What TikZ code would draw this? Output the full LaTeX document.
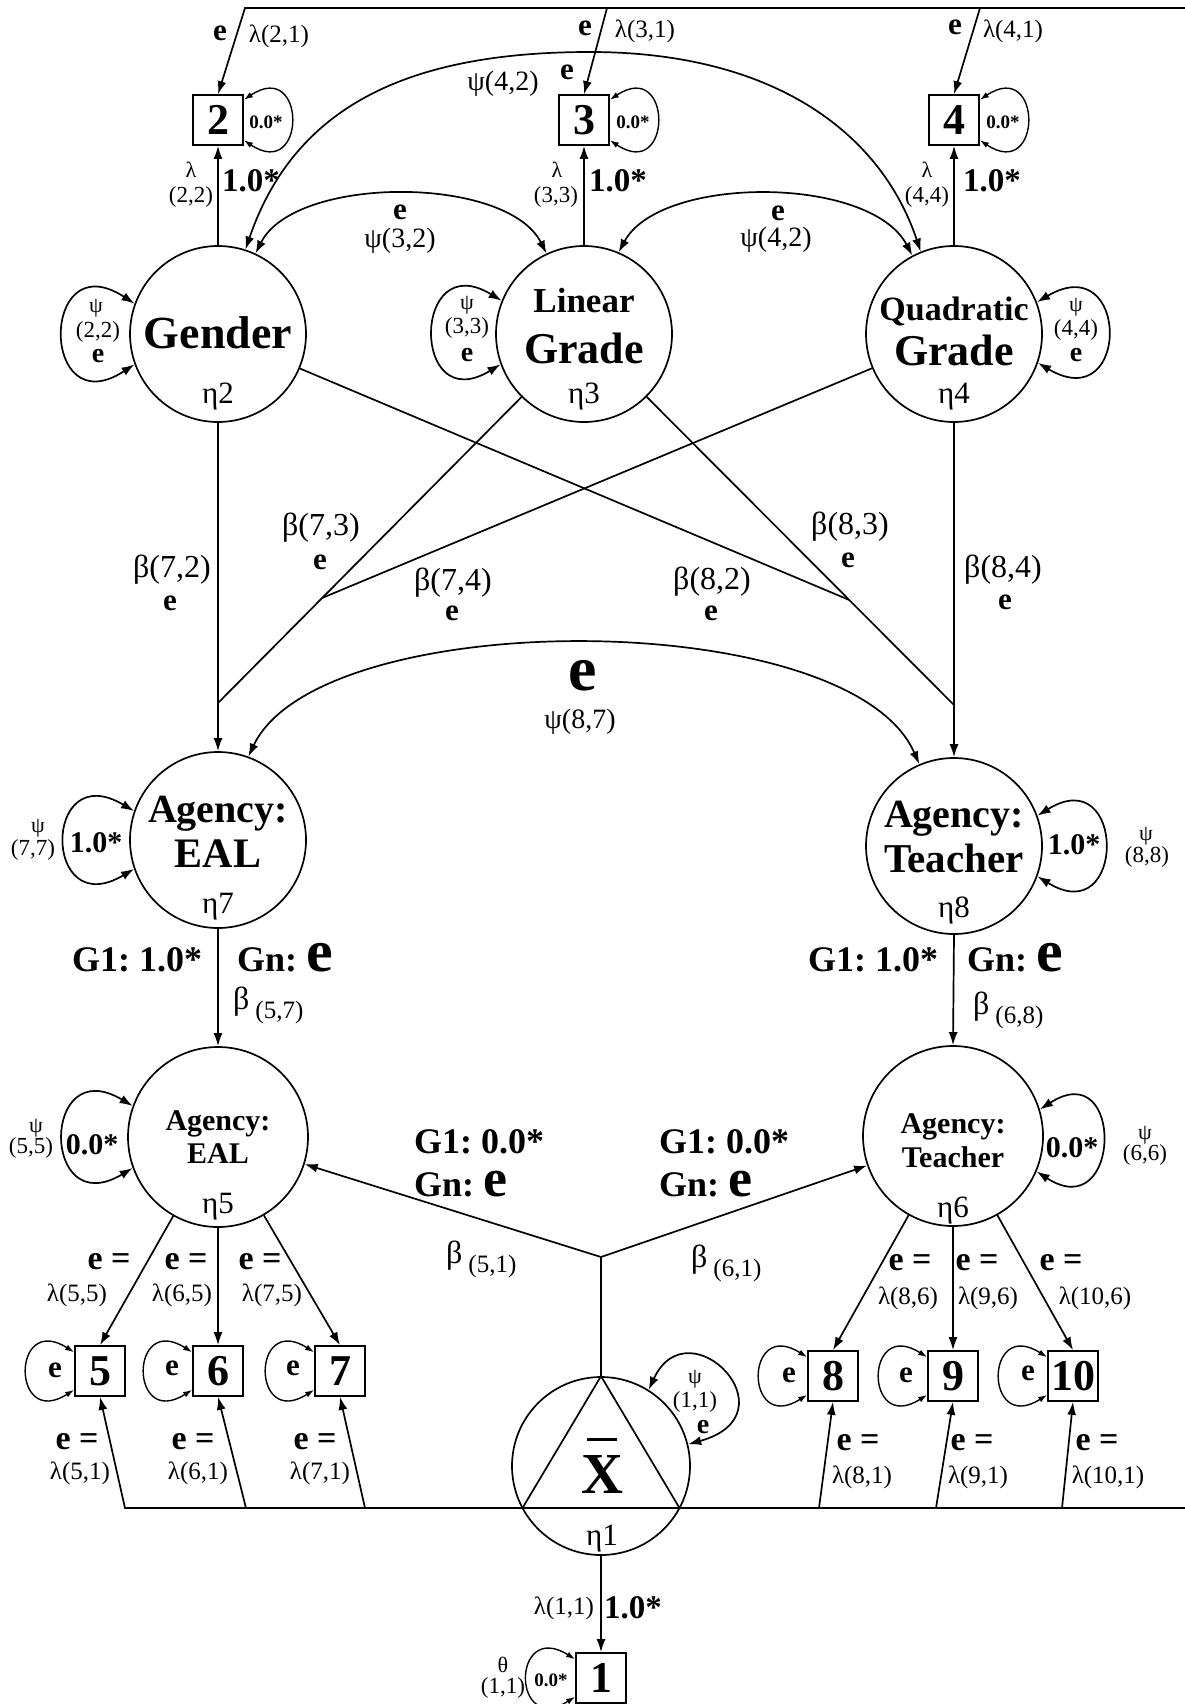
\documentclass[tikz,border=0pt]{standalone}
\usepackage{fontspec}
\setmainfont{Liberation Serif}
\usetikzlibrary{arrows.meta,calc}
\newcommand\fsz[1]{\fontsize{#1}{#1}\selectfont}
\begin{document}
\frenchspacing
\begin{tikzpicture}[x=1pt,y=-1pt,
  ln/.style={line width=1.7pt},
  arr/.style={ln,-{Latex[length=13pt,width=9pt]}},
  darr/.style={ln,{Latex[length=13pt,width=9pt]}-{Latex[length=13pt,width=9pt]}},
  lp/.style={line width=1.4pt,{Latex[length=9pt,width=6pt]}-{Latex[length=9pt,width=6pt]}},
  lat/.style={circle,draw,line width=1.7pt,minimum size=176pt,inner sep=0pt},
  obs/.style={rectangle,draw,line width=1.7pt,minimum width=50pt,minimum height=50pt,inner sep=0pt,font=\fsz{44}\bfseries},
  tx/.style={inner sep=0pt},
  lam/.style={tx,font=\fsz{25}},
  be/.style={tx,font=\fsz{31}\bfseries},
  bet/.style={tx,font=\fsz{32}},
  psl/.style={tx,font=\fsz{28}},
  one/.style={tx,font=\fsz{33}\bfseries},
  lone/.style={tx,font=\fsz{30}\bfseries},
  tinyb/.style={tx,font=\fsz{19}\bfseries},
  sm/.style={tx,font=\fsz{23}},
  gsym/.style={tx,font=\fsz{22}},
  gn/.style={tx,font=\fsz{36}\bfseries,anchor=base west},
  bsub/.style={tx,font=\fsz{32},anchor=base west},
  eq/.style={tx,font=\fsz{34}\bfseries},
  bige/.style={tx,font=\fsz{64}\bfseries},
  eta/.style={tx,font=\fsz{31},anchor=base},
  ctxt/.style={tx,anchor=base},
]
\useasboundingbox (0,0) rectangle (1185,1704);

% ---------- latent variables ----------
\node[lat] (g) at (218,334) {};
\node[lat] (lin) at (584,334) {};
\node[lat] (q) at (954,334) {};
\node[lat] (e7) at (218,840) {};
\node[lat] (e8) at (954,846) {};
\node[lat,minimum size=180pt] (e5) at (218,1137) {};
\node[lat,minimum size=180pt] (e6) at (953,1136) {};
\node[lat,minimum size=178pt] (xb) at (601,1466) {};

% ---------- observed variables ----------
\node[obs] (b1) at (601,1678) {1};
\node[obs] (b2) at (218,120) {2};
\node[obs] (b3) at (584,120) {3};
\node[obs] (b4) at (954,120) {4};
\node[obs] (b5) at (100,1371) {5};
\node[obs] (b6) at (218,1371) {6};
\node[obs] (b7) at (340,1371) {7};
\node[obs] (b8) at (833,1376) {8};
\node[obs] (b9) at (953,1376) {9};
\node[obs] (b10) at (1073,1376) {10};

% ---------- texts inside circles ----------
\node[ctxt,font=\fsz{46}\bfseries] (tg) at (218,348) {Gender};
\node[eta] (t2) at (218,403) {η2};
\node[ctxt,font=\fsz{35}\bfseries] (tl1) at (584,312) {Linear};
\node[ctxt,font=\fsz{44}\bfseries] (tl2) at (584,363) {Grade};
\node[eta] (t3) at (584,403) {η3};
\node[ctxt,font=\fsz{34}\bfseries] (tq1) at (954,320) {Quadratic};
\node[ctxt,font=\fsz{44}\bfseries] (tq2) at (954,365) {Grade};
\node[eta] (t4) at (954,403) {η4};
\node[ctxt,font=\fsz{40}\bfseries] (t7a) at (218,822) {Agency:};
\node[ctxt,font=\fsz{42}\bfseries] (t7b) at (218,867) {EAL};
\node[eta] (t7) at (218,913) {η7};
\node[ctxt,font=\fsz{40}\bfseries] (t8a) at (954,827) {Agency:};
\node[ctxt,font=\fsz{41}\bfseries] (t8b) at (954,872) {Teacher};
\node[eta] (t8) at (954,917) {η8};
\node[ctxt,font=\fsz{30}\bfseries] (t5a) at (218,1130) {Agency:};
\node[ctxt,font=\fsz{30}\bfseries] (t5b) at (218,1163) {EAL};
\node[eta] (t5) at (218,1213) {η5};
\node[ctxt,font=\fsz{30}\bfseries] (t6a) at (953,1133) {Agency:};
\node[ctxt,font=\fsz{30}\bfseries] (t6b) at (953,1167) {Teacher};
\node[eta] (t6) at (953,1217) {η6};
\node[ctxt,font=\fsz{58}\bfseries] (xl) at (602,1493) {X};
\draw[line width=3pt] ([xshift=-15pt,yshift=15pt]xl.north) -- ([xshift=15pt,yshift=15pt]xl.north);
\node[eta] (t1) at (602,1545) {η1};

% ---------- top line and loadings on eta1 ----------
\coordinate (tl0) at (245,8);
\coordinate (tl3) at (607,8);
\coordinate (tl4) at (980,8);
\coordinate (tlR) at (1185,8);
\draw[arr] (tlR) -- (tl0) -- (b2.north);
\draw[arr] (tl3) -- (b3.north);
\draw[arr] (tl4) -- (b4.north);

% ---------- bottom line ----------
\coordinate (bl0) at (125,1508);
\coordinate (blR) at (1185,1508);
\coordinate (c6) at (246,1508);
\coordinate (c7) at (365,1508);
\coordinate (c8) at (819,1508);
\coordinate (c9) at (936,1508);
\coordinate (c10) at (1062,1508);
\draw[arr] (blR) -- (bl0) -- (b5.south);
\draw[arr] (c6) -- (b6.south);
\draw[arr] (c7) -- (b7.south);
\draw[arr] (c8) -- (b8.south);
\draw[arr] (c9) -- (b9.south);
\draw[arr] (c10) -- (b10.south);

% triangle in the mean circle
\coordinate (tL) at (522.5,1508);
\coordinate (tR) at (679.5,1508);
\draw[ln,line join=round] (xb.north) -- (tL) -- (tR) -- cycle;

% ---------- loadings of top factors ----------
\draw[arr] (g.north) -- (b2.south);
\draw[arr] (lin.north) -- (b3.south);
\draw[arr] (q.north) -- (b4.south);

% ---------- covariances among top factors ----------
\draw[darr] (g.65) .. controls (295,175) and (507,175) .. (lin.115);
\draw[darr] (lin.67) .. controls (660,175) and (870,175) .. (q.118);
\draw[darr] (g.72) .. controls (295,105) and (410,52) .. (590,52) .. controls (770,52) and (880,130) .. (q.112);

% ---------- paths to eta7 and eta8 ----------
\coordinate (m7) at (218,703);
\coordinate (m8) at (954,705);
\coordinate (j7) at ($(lin)!0.7154!(m7)$);
\coordinate (j8) at ($(lin)!0.717!(m8)$);
\draw[arr] (g.south) -- (e7.north);
\draw[ln] (lin) -- (m7);
\draw[ln] (q) -- (j7);
\draw[arr] (q.south) -- (e8.north);
\draw[ln] (lin) -- (m8);
\draw[ln] (g) -- (j8);

% covariance eta7-eta8
\draw[darr] (e7.70) .. controls (320,605) and (850,605) .. (e8.113);

% eta7 -> eta5, eta8 -> eta6
\draw[arr] (e7.south) -- (e5.north);
\draw[arr] (e8.south) -- (e6.north);

% mean paths
\coordinate (j1) at (601,1257);
\draw[ln] (xb.north) -- (j1);
\draw[arr] (j1) -- (e5);
\draw[arr] (j1) -- (e6);
\draw[arr] (xb.south) -- (b1.north);

% eta5, eta6 loadings
\draw[arr] (e5) -- (b5.north);
\draw[arr] (e5.south) -- (b6.north);
\draw[arr] (e5) -- (b7.north);
\draw[arr] (e6) -- (b8.north);
\draw[arr] (e6.south) -- (b9.north);
\draw[arr] (e6) -- (b10.north);

% ---------- variance loops ----------
\draw[darr] (g.160) .. controls +(-95,-62) and +(-95,62) .. (g.200);
\draw[darr] (lin.158) .. controls +(-90,-55) and +(-90,55) .. (lin.200);
\draw[darr] (q.21) .. controls +(93,-55) and +(93,55) .. (q.-19);
\draw[darr] (e7.161) .. controls +(-92,-55) and +(-92,55) .. (e7.199);
\draw[darr] (e8.20) .. controls +(89,-55) and +(89,55) .. (e8.-20);
\draw[darr] (e5.160) .. controls +(-92,-55) and +(-92,55) .. (e5.200);
\draw[darr] (e6.17) .. controls +(85,-55) and +(85,55) .. (e6.-23);
\draw[darr] (xb.58) .. controls +(40,-86) and +(108,-30) .. (xb.14);
\draw[lp] (b2.38) .. controls +(63,-42) and +(63,42) .. (b2.-38);
\draw[lp] (b3.38) .. controls +(63,-42) and +(63,42) .. (b3.-38);
\draw[lp] (b4.38) .. controls +(63,-42) and +(63,42) .. (b4.-38);
\draw[lp] (b5.144) .. controls +(-63,-40) and +(-63,40) .. (b5.216);
\draw[lp] (b6.144) .. controls +(-63,-40) and +(-63,40) .. (b6.216);
\draw[lp] (b7.144) .. controls +(-63,-40) and +(-63,40) .. (b7.216);
\draw[lp] (b8.144) .. controls +(-63,-40) and +(-63,40) .. (b8.216);
\draw[lp] (b9.144) .. controls +(-63,-40) and +(-63,40) .. (b9.216);
\draw[lp] (b10.144) .. controls +(-63,-40) and +(-63,40) .. (b10.216);
\draw[lp] (b1.144) .. controls +(-64,-40) and +(-64,40) .. (b1.216);

% ---------- labels: top ----------
\node[be] (e21) at (220,33) {e};
\node[lam] (l21) at (279,36) {λ(2,1)};
\node[be] (e31) at (585,28) {e};
\node[lam] (l31) at (645,31) {λ(3,1)};
\node[be] (e41) at (955,27) {e};
\node[lam] (l41) at (1013,31) {λ(4,1)};
\node[tinyb] (z2) at (266,122) {0.0*};
\node[tinyb] (z3) at (633,122) {0.0*};
\node[tinyb] (z4) at (1003,122) {0.0*};
\node[gsym] (l22a) at (191,170) {λ};
\node[sm] (l22b) at (191,197) {(2,2)};
\node[gsym] (l33a) at (557,170) {λ};
\node[sm] (l33b) at (556,197) {(3,3)};
\node[gsym] (l44a) at (927,170) {λ};
\node[sm] (l44b) at (927,197) {(4,4)};
\node[one] (o22) at (251,181) {1.0*};
\node[one] (o33) at (618,181) {1.0*};
\node[one] (o44) at (992,181) {1.0*};
\node[be] (e32) at (400,212) {e};
\node[psl] (p32) at (400,241) {ψ(3,2)};
\node[be] (e43) at (778,213) {e};
\node[psl] (p43) at (776,240) {ψ(4,2)};
\node[psl] (p42) at (503,84) {ψ(4,2)};
\node[be] (e42) at (567,72) {e};

% loops of top factors
\node[gsym] (gpa) at (96,308) {ψ};
\node[sm] (gpb) at (98,332) {(2,2)};
\node[tx,font=\fsz{28}\bfseries] (gpc) at (98,356) {e};
\node[gsym] (lpa) at (467,305) {ψ};
\node[sm] (lpb) at (467,328) {(3,3)};
\node[tx,font=\fsz{28}\bfseries] (lpc) at (467,355) {e};
\node[gsym] (qpa) at (1076,307) {ψ};
\node[sm] (qpb) at (1076,330) {(4,4)};
\node[tx,font=\fsz{28}\bfseries] (qpc) at (1076,355) {e};

% ---------- beta labels ----------
\node[bet] (b72) at (172,570) {β(7,2)};
\node[be] (b72e) at (170,603) {e};
\node[bet] (b73) at (321,528) {β(7,3)};
\node[be] (b73e) at (320,562) {e};
\node[bet] (b74) at (453,583) {β(7,4)};
\node[be] (b74e) at (452,613) {e};
\node[bet] (b82) at (712,582) {β(8,2)};
\node[be] (b82e) at (711,613) {e};
\node[bet] (b83) at (850,527) {β(8,3)};
\node[be] (b83e) at (848,560) {e};
\node[bet] (b84) at (1003,570) {β(8,4)};
\node[be] (b84e) at (1005,602) {e};

\node[bige] (e87) at (583,676) {e};
\node[psl] (p87) at (580,722) {ψ(8,7)};

% eta7 / eta8 loops and labels
\node[lone] (o77) at (96,843) {1.0*};
\node[gsym] (p77a) at (38,828) {ψ};
\node[sm] (p77b) at (33,850) {(7,7)};
\node[lone] (o88) at (1074,845) {1.0*};
\node[gsym] (p88a) at (1146,836) {ψ};
\node[sm] (p88b) at (1147,857) {(8,8)};
\node[gn] (g17) at (72,971) {G1: 1.0*};
\node[gn] (gn7) at (237,971) {Gn:\hspace{9pt}{\fsz{60}e}};
\node[bsub] (b57) at (233,1009) {β\hspace{6pt}\raisebox{-9pt}{\fsz{25}(5,7)}};
\node[gn] (g18) at (808,971) {G1: 1.0*};
\node[gn] (gn8) at (967,971) {Gn:\hspace{9pt}{\fsz{60}e}};
\node[bsub] (b68) at (973,1014) {β\hspace{6pt}\raisebox{-9pt}{\fsz{25}(6,8)}};

% eta5 / eta6 loops and labels
\node[lone] (o55) at (92,1145) {0.0*};
\node[gsym] (p55a) at (36,1128) {ψ};
\node[sm] (p55b) at (31,1148) {(5,5)};
\node[lone] (o66) at (1072,1148) {0.0*};
\node[gsym] (p66a) at (1145,1135) {ψ};
\node[sm] (p66b) at (1145,1155) {(6,6)};
\node[gn] (g15) at (414,1153) {G1: 0.0*};
\node[gn] (gn5) at (414,1196) {Gn:\hspace{9pt}{\fsz{54}e}};
\node[bsub] (b51) at (446,1263) {β\hspace{6pt}\raisebox{-9pt}{\fsz{25}(5,1)}};
\node[gn] (g16) at (659,1153) {G1: 0.0*};
\node[gn] (gn6) at (659,1196) {Gn:\hspace{9pt}{\fsz{54}e}};
\node[bsub] (b61) at (691,1267) {β\hspace{6pt}\raisebox{-9pt}{\fsz{25}(6,1)}};

% loadings labels eta5
\node[eq] (q55) at (109,1262) {e =};
\node[lam] (l55) at (77,1295) {λ(5,5)};
\node[eq] (q65) at (186,1262) {e =};
\node[lam] (l65) at (182,1295) {λ(6,5)};
\node[eq] (q75) at (260,1262) {e =};
\node[lam] (l75) at (272,1295) {λ(7,5)};
% loadings labels eta6
\node[eq] (q86) at (910,1263) {e =};
\node[lam] (l86) at (908,1298) {λ(8,6)};
\node[eq] (q96) at (977,1263) {e =};
\node[lam] (l96) at (988,1298) {λ(9,6)};
\node[eq] (q106) at (1061,1263) {e =};
\node[lam] (l106) at (1095,1298) {λ(10,6)};

% box residual loops
\node[be] (r5) at (55,1370) {e};
\node[be] (r6) at (172,1368) {e};
\node[be] (r7) at (293,1368) {e};
\node[be] (r8) at (789,1375) {e};
\node[be] (r9) at (906,1375) {e};
\node[be] (r10) at (1028,1373) {e};

% loadings on eta1 (bottom)
\node[eq] (q51) at (77,1442) {e =};
\node[lam] (l51) at (80,1473) {λ(5,1)};
\node[eq] (q61) at (193,1442) {e =};
\node[lam] (l61) at (198,1473) {λ(6,1)};
\node[eq] (q71) at (315,1442) {e =};
\node[lam] (l71) at (320,1473) {λ(7,1)};
\node[eq] (q81) at (858,1443) {e =};
\node[lam] (l81) at (862,1477) {λ(8,1)};
\node[eq] (q91) at (972,1443) {e =};
\node[lam] (l91) at (978,1477) {λ(9,1)};
\node[eq] (q101) at (1097,1443) {e =};
\node[lam] (l101) at (1108,1477) {λ(10,1)};

% mean circle loop and box 1
\node[gsym] (p11a) at (695,1379) {ψ};
\node[sm] (p11b) at (695,1402) {(1,1)};
\node[tx,font=\fsz{28}\bfseries] (p11c) at (703,1427) {e};
\node[lam] (l11) at (564,1608) {λ(1,1)};
\node[one] (o11) at (633,1608) {1.0*};
\node[tinyb] (z1) at (551,1680) {0.0*};
\node[gsym] (th1) at (503,1665) {θ};
\node[sm] (th2) at (503,1688) {(1,1)};
\end{tikzpicture}
\end{document}
